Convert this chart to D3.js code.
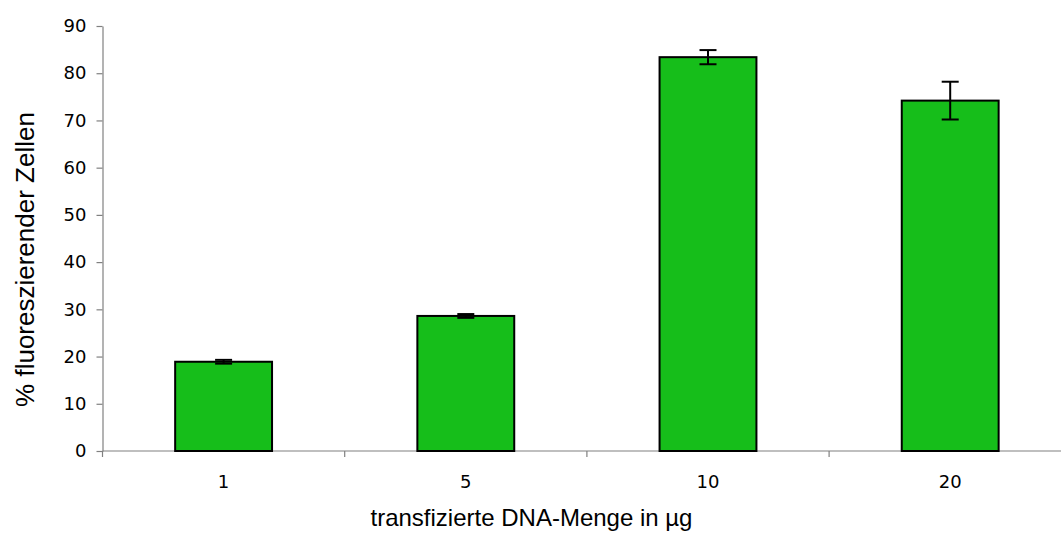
<!DOCTYPE html>
<html>
<head>
<meta charset="utf-8">
<script src="https://cdn.jsdelivr.net/npm/d3@7"></script>
<style>
  body { margin: 0; background: #fff; }
  .tick text { font-family: "DejaVu Sans", Verdana, sans-serif; font-size: 18px; fill: #000; }
  .axis_title { font-family: "Liberation Sans", Arial, sans-serif; fill: #000; }
</style>
</head>
<body>
<figure id="chart" style="margin:0"></figure>
<script>
// data
let categories = ["1", "5", "10", "20"];
let values = [18.9, 28.6, 83.4, 74.2];
let errors = [0.4, 0.4, 1.5, 4.0];
let yTicks = [0, 10, 20, 30, 40, 50, 60, 70, 80, 90];

let dimensions = {
    width: 1061,
    height: 534,
    margin: { top: 26, right: 0, bottom: 83, left: 102.5 },
};
dimensions.boundedHeight = dimensions.height - dimensions.margin.top - dimensions.margin.bottom;

var svg = d3.select("figure#chart")
    .append("svg")
    .attr("width", dimensions.width)
    .attr("height", dimensions.height)
    .append("g")
    .attr("transform", `translate(${dimensions.margin.left}, ${dimensions.margin.top})`);

// the category axis runs past the right edge of the window
var xScale = d3.scaleBand()
    .domain(categories)
    .range([0, 242.2 * 4])
    .paddingInner(0.6)
    .paddingOuter(0.3);

var yScale = d3.scaleLinear()
    .domain([0, 90])
    .range([dimensions.boundedHeight, 0]);

var data = categories.map((c, i) => ({ cat: c, value: values[i], err: errors[i] }));

// y axis
var yAxis = svg.append("g")
    .call(d3.axisLeft(yScale).tickValues(yTicks).tickSize(6).tickSizeOuter(0).tickPadding(10));
yAxis.selectAll("line, path").attr("stroke", "#808080").attr("stroke-width", 1.2);

// x axis: ticks between categories
var xAxis = svg.append("g")
    .attr("transform", `translate(0, ${dimensions.boundedHeight})`);
xAxis.append("line")
    .attr("x1", 0).attr("x2", xScale.range()[1])
    .attr("stroke", "#808080").attr("stroke-width", 1.2);
xAxis.selectAll(".sep")
    .data(categories)
    .enter()
    .append("line")
    .attr("x1", (d, i) => i * xScale.step())
    .attr("x2", (d, i) => i * xScale.step())
    .attr("y1", 0).attr("y2", 6)
    .attr("stroke", "#808080").attr("stroke-width", 1.2);
xAxis.selectAll(".tick")
    .data(categories)
    .enter()
    .append("g")
    .attr("class", "tick")
    .append("text")
    .attr("x", d => xScale(d) + xScale.bandwidth() / 2)
    .attr("y", 37)
    .attr("text-anchor", "middle")
    .text(d => d);

// bars
svg.selectAll("rect.bar")
    .data(data)
    .enter()
    .append("rect")
    .attr("class", "bar")
    .attr("x", d => xScale(d.cat))
    .attr("y", d => yScale(d.value))
    .attr("width", xScale.bandwidth())
    .attr("height", d => dimensions.boundedHeight - yScale(d.value))
    .attr("fill", "#16be1a")
    .attr("stroke", "#000")
    .attr("stroke-width", 2);

// error bars
var eb = svg.selectAll("g.err")
    .data(data)
    .enter()
    .append("g")
    .attr("class", "err")
    .attr("stroke", "#000")
    .attr("stroke-width", 2);
eb.append("line")
    .attr("x1", d => xScale(d.cat) + xScale.bandwidth() / 2)
    .attr("x2", d => xScale(d.cat) + xScale.bandwidth() / 2)
    .attr("y1", d => yScale(d.value + d.err))
    .attr("y2", d => yScale(d.value - d.err));
eb.append("line")
    .attr("x1", d => xScale(d.cat) + xScale.bandwidth() / 2 - 8.5)
    .attr("x2", d => xScale(d.cat) + xScale.bandwidth() / 2 + 8.5)
    .attr("y1", d => yScale(d.value + d.err))
    .attr("y2", d => yScale(d.value + d.err));
eb.append("line")
    .attr("x1", d => xScale(d.cat) + xScale.bandwidth() / 2 - 8.5)
    .attr("x2", d => xScale(d.cat) + xScale.bandwidth() / 2 + 8.5)
    .attr("y1", d => yScale(d.value - d.err))
    .attr("y2", d => yScale(d.value - d.err));

// axis titles
svg.append("text")
    .attr("class", "axis_title")
    .attr("font-size", "26px")
    .attr("transform", `translate(-68.5, ${dimensions.boundedHeight / 2 + 21}) rotate(-90)`)
    .attr("text-anchor", "middle")
    .text("% fluoreszierender Zellen");

svg.append("text")
    .attr("class", "axis_title")
    .attr("font-size", "24px")
    .attr("x", 531.5 - dimensions.margin.left)
    .attr("y", dimensions.boundedHeight + 75)
    .attr("text-anchor", "middle")
    .text("transfizierte DNA-Menge in µg");
</script>
</body>
</html>
